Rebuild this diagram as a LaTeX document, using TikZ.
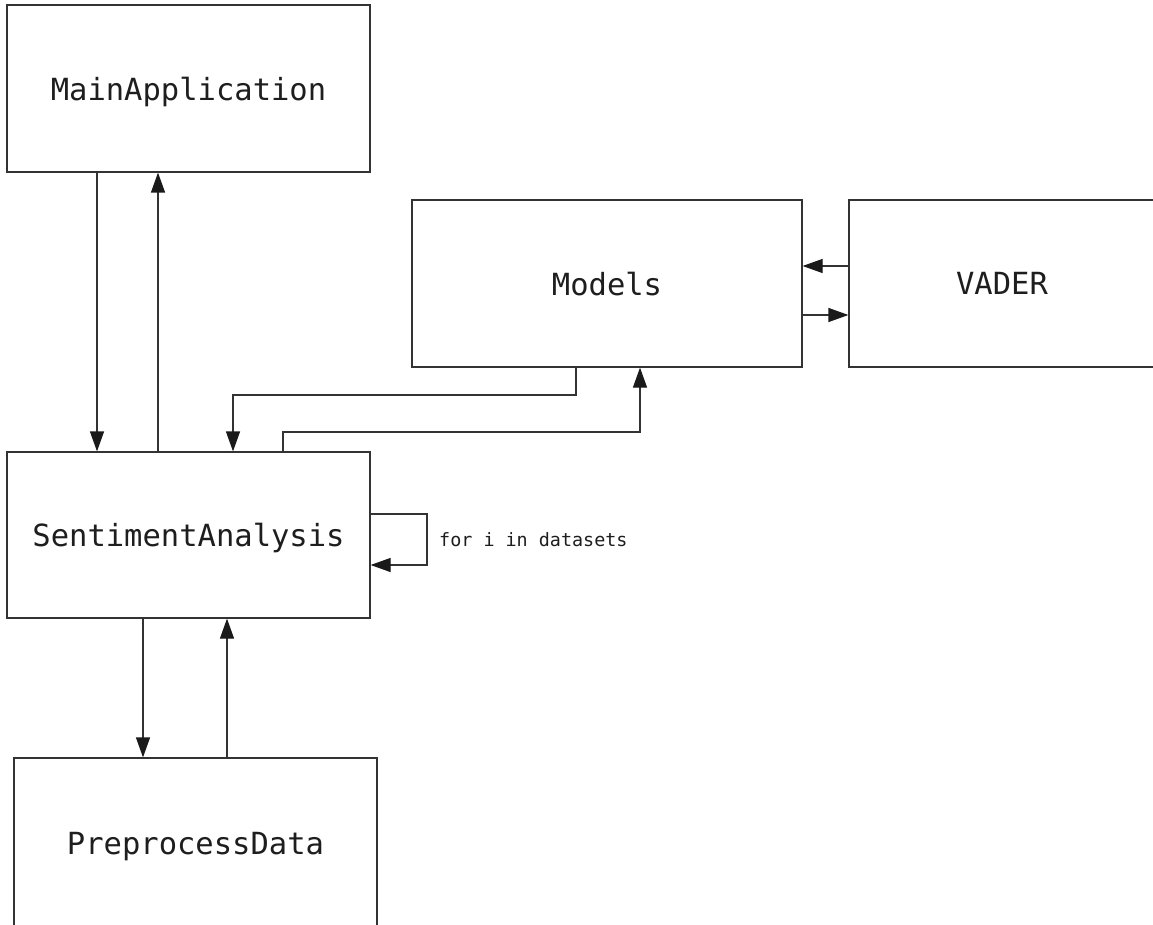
\documentclass[tikz,border=0pt]{standalone}
\usepackage{fontspec}
\setmonofont{DejaVu Sans Mono}
\usetikzlibrary{arrows.meta,calc}
\definecolor{ink}{HTML}{1E1E1E}
\definecolor{edge}{HTML}{333333}
\definecolor{tip}{HTML}{1A1A1A}
\tikzset{
  block/.style={draw=edge, line width=1.2pt, fill=white, rectangle, inner sep=0pt,
    text=ink, text depth=0pt, font=\ttfamily\fontsize{30.5}{36}\selectfont},
  flow/.style={draw=edge, line width=1.2pt,
    -{Triangle[length=20pt,width=14pt,color=tip]}},
  note/.style={text=ink, inner sep=0pt, font=\ttfamily\fontsize{18.4}{22}\selectfont}
}
\begin{document}
\begin{tikzpicture}[x=1pt,y=-1pt]
  \useasboundingbox (0,0) rectangle (1153,925);
  \clip (0,0) rectangle (1153,925);

  % components
  \node[block, minimum width=363pt, minimum height=167pt] (main)   at (188.5,88.5)  {MainApplication};
  \node[block, minimum width=390pt, minimum height=167pt] (models) at (607,283.5)   {Models};
  \node[block, minimum width=306pt, minimum height=167pt] (vader)  at (1002,283.5)  {VADER};
  \node[block, minimum width=363pt, minimum height=166pt] (sa)     at (188.5,535)   {SentimentAnalysis};
  \node[block, minimum width=363pt, minimum height=170pt] (prep)   at (195.5,843)   {PreprocessData};

  % guide positions for the connectors
  \coordinate (mainCall) at (97,0);
  \coordinate (mainRet)  at (158,0);
  \coordinate (vIn)      at (0,266);
  \coordinate (vOut)     at (0,315);
  \coordinate (mOut)     at (576,0);
  \coordinate (saIn)     at (233,0);
  \coordinate (laneA)    at (0,395);
  \coordinate (saOut)    at (283,0);
  \coordinate (mIn)      at (640,0);
  \coordinate (laneB)    at (0,432);
  \coordinate (loopTop)  at (0,514);
  \coordinate (loopBot)  at (0,565);
  \coordinate (loopX)    at (427,540);
  \coordinate (pCall)    at (143,0);
  \coordinate (pRet)     at (227,0);

  % MainApplication <-> SentimentAnalysis
  \draw[flow] (main.south -| mainCall) -- (sa.north -| mainCall);
  \draw[flow] (sa.north -| mainRet) -- (main.south -| mainRet);

  % Models <-> VADER
  \draw[flow] (vader.west |- vIn) -- (models.east |- vIn);
  \draw[flow] (models.east |- vOut) -- (vader.west |- vOut);

  % Models <-> SentimentAnalysis
  \draw[flow] (models.south -| mOut) -- (mOut |- laneA) -- (saIn |- laneA) -- (sa.north -| saIn);
  \draw[flow] (sa.north -| saOut) -- (saOut |- laneB) -- (mIn |- laneB) -- (models.south -| mIn);

  % loop over datasets
  \draw[flow] (sa.east |- loopTop) -| (loopX) |- (sa.east |- loopBot);
  \node[note, anchor=west] (loopLabel) at (439,540) {for i in datasets};

  % SentimentAnalysis <-> PreprocessData
  \draw[flow] (sa.south -| pCall) -- (prep.north -| pCall);
  \draw[flow] (prep.north -| pRet) -- (sa.south -| pRet);
\end{tikzpicture}
\end{document}
